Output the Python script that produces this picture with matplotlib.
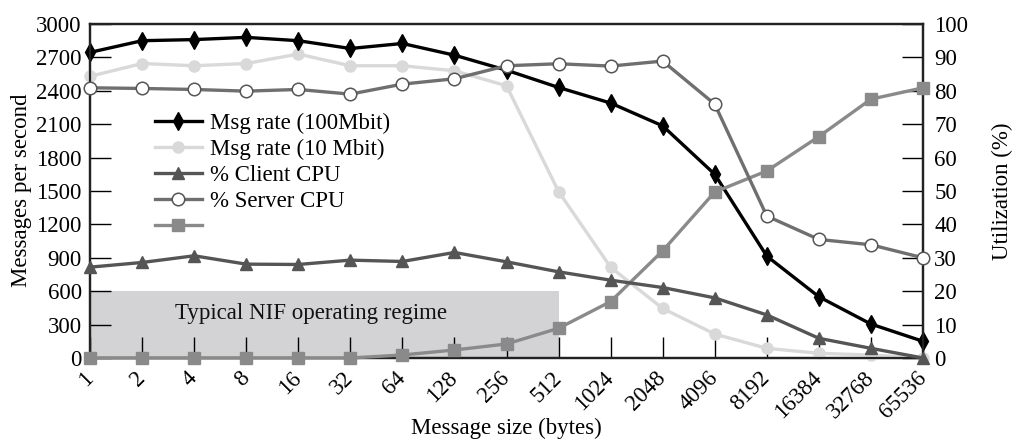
import numpy as np
import matplotlib
matplotlib.use("Agg")
import matplotlib.pyplot as plt
from matplotlib.transforms import ScaledTranslation

# Message sizes (bytes) on the category axis
sizes = ["1", "2", "4", "8", "16", "32", "64", "128", "256", "512",
         "1024", "2048", "4096", "8192", "16384", "32768", "65536"]

# Messages per second (left axis)
rate_100mbit = [2745, 2850, 2860, 2880, 2850, 2780, 2825, 2720, 2585, 2430,
                2290, 2085, 1650, 915, 550, 305, 150]
rate_10mbit = [2530, 2645, 2625, 2645, 2730, 2625, 2625, 2580, 2445, 1495,
               815, 445, 215, 87, 42, 27, 0]

# Utilization in percent (right axis)
client_cpu = [27.2, 28.6, 30.6, 28.1, 28.0, 29.3, 28.9, 31.6, 28.8, 25.8,
              23.3, 21.1, 18.0, 12.9, 5.9, 2.9, 0.0]
server_cpu = [80.9, 80.7, 80.4, 79.9, 80.4, 79.0, 82.0, 83.6, 87.5, 88.1,
              87.4, 88.9, 76.0, 42.5, 35.5, 33.9, 30.0]
fourth_series = [0, 0, 0, 0, 0, 0, 0.9, 2.4, 4.2, 8.9,
                 16.9, 32.1, 49.7, 56.0, 66.3, 77.5, 80.9]

left_ticks = [0, 300, 600, 900, 1200, 1500, 1800, 2100, 2400, 2700, 3000]
right_ticks = [0, 10, 20, 30, 40, 50, 60, 70, 80, 90, 100]

# Shaded band: the usual operating range
regime_end = "512"
regime_top = 600

plt.rcParams["font.family"] = ["Liberation Serif", "DejaVu Serif"]
FS = 16.5
W, H = 1013, 444

fig = plt.figure(figsize=(W / 100, H / 100), dpi=100)
ax = fig.add_axes([90 / W, 1 - 358 / H, (923 - 90) / W, (358 - 24) / H])
ax2 = ax.twinx()

x = np.arange(len(sizes))
ax.set_xlim(x[0], x[-1])
ax.set_ylim(0, 3000)
ax2.set_ylim(0, 100)

# operating regime band
end_idx = sizes.index(regime_end)
ax.fill_between([x[0], x[end_idx]], 0, regime_top, color="#d3d3d6", lw=0, zorder=0)
ax.text(4.25, 400, "Typical NIF operating regime",
        ha="center", va="center", fontsize=FS, color="#111111", zorder=1)

lw = 2.4
h1, = ax.plot(x, rate_100mbit, color="black", lw=lw, marker="d", ms=9,
              mec="black", mfc="black", mew=1, clip_on=False, zorder=6,
              label="Msg rate (100Mbit)")
h2, = ax.plot(x, rate_10mbit, color="#d9d9d9", lw=lw, marker="o", ms=8,
              mec="#d9d9d9", mfc="#d9d9d9", clip_on=False, zorder=3,
              label="Msg rate (10 Mbit)")
h3, = ax2.plot(x, client_cpu, color="#555555", lw=lw, marker="^", ms=9,
               mec="#555555", mfc="#555555", clip_on=False, zorder=4,
               label="% Client CPU")
h4, = ax2.plot(x, server_cpu, color="#6f6f6f", lw=lw, marker="o", ms=9,
               mec="#555555", mfc="white", mew=1.1, clip_on=False, zorder=5,
               label="% Server CPU")
h5, = ax2.plot(x, fourth_series, color="#8a8a8a", lw=lw, marker="s", ms=8.5,
               mec="#8a8a8a", mfc="#8a8a8a", clip_on=False, zorder=3)

ax.set_xticks(x)
ax.set_xticklabels(sizes, rotation=45, ha="right", va="center",
                   rotation_mode="anchor", fontsize=FS)
shift = ScaledTranslation(5 / 100, -2 / 100, fig.dpi_scale_trans)
for lab in ax.get_xticklabels():
    lab.set_transform(lab.get_transform() + shift)

ax.set_yticks(left_ticks)
ax.set_yticklabels([str(t) for t in left_ticks], fontsize=FS)
ax2.set_yticks(right_ticks)
ax2.set_yticklabels([str(t) for t in right_ticks], fontsize=FS)

ax.tick_params(axis="x", direction="in", length=15, width=1.0, pad=12,
               color="black")
ax.tick_params(axis="y", direction="in", length=15, width=1.0, pad=6,
               color="black", right=False)
ax2.tick_params(axis="y", direction="in", length=15, width=1.0, pad=8,
                color="black")

for a in (ax, ax2):
    for s in a.spines.values():
        s.set_linewidth(1.6)
        s.set_color("#222222")

# axis titles placed in figure pixels
fig.text(22 / W, 1 - 190 / H, "Messages per second", rotation=90,
         ha="center", va="center", fontsize=FS)
fig.text(1002 / W, 1 - 191 / H, "Utilization (%)", rotation=90,
         ha="center", va="center", fontsize=FS)
fig.text(506 / W, 1 - 428 / H, "Message size (bytes)",
         ha="center", va="center", fontsize=FS)

ax2.legend([h1, h2, h3, h4, h5],
           ["Msg rate (100Mbit)", "Msg rate (10 Mbit)", "% Client CPU",
            "% Server CPU", ""],
           loc="upper left", bbox_to_anchor=(0.078, 0.735), frameon=False,
           fontsize=FS, handlelength=2.05, handletextpad=0.35,
           labelspacing=0.22, borderpad=0, borderaxespad=0)

fig.savefig("out.png", dpi=100)
